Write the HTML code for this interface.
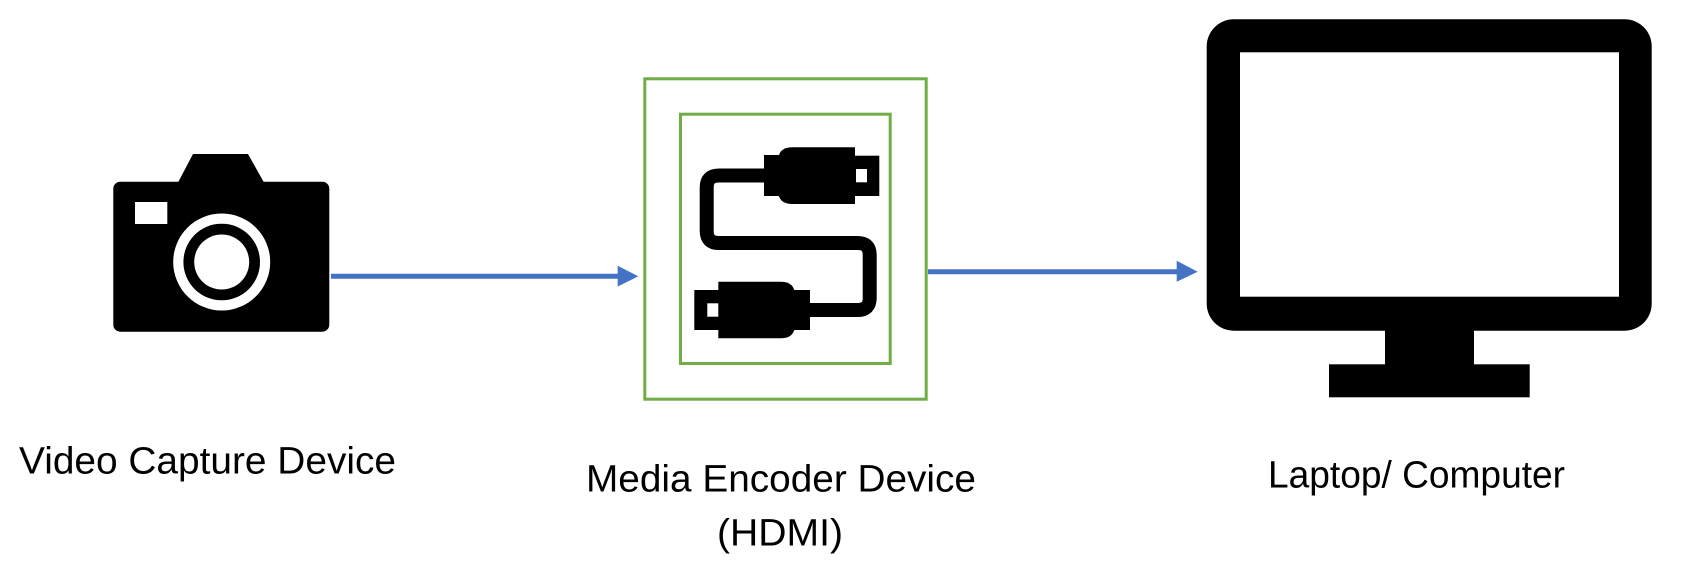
<!DOCTYPE html>
<html>
<head>
<meta charset="utf-8">
<style>
  html, body { margin: 0; padding: 0; background: #ffffff; }
  body { width: 1698px; height: 576px; overflow: hidden; }
  svg { display: block; }
  text { font-family: "Liberation Sans", Arial, sans-serif; font-size: 38px; fill: #000; }
</style>
</head>
<body>
<svg width="1698" height="576" viewBox="0 0 1698 576" xmlns="http://www.w3.org/2000/svg">
  <rect x="0" y="0" width="1698" height="576" fill="#ffffff"/>

  <!-- Camera -->
  <polygon points="178,182.5 193,154 248,154 264,182.5" fill="#000"/>
  <rect x="113.3" y="181.7" width="216" height="150" rx="7" ry="7" fill="#000"/>
  <rect x="135" y="202" width="32.3" height="22" fill="#fff"/>
  <circle cx="221.7" cy="262" r="48.5" fill="#fff"/>
  <circle cx="221.7" cy="262" r="38.3" fill="#000"/>
  <circle cx="221.7" cy="262" r="27.5" fill="#fff"/>

  <!-- Arrow 1 -->
  <line x1="331" y1="276.3" x2="619" y2="276.3" stroke="#4472C4" stroke-width="5"/>
  <polygon points="617.7,265.7 638.3,276.3 617.7,286.5" fill="#4472C4"/>

  <!-- Green boxes -->
  <rect x="644.8" y="78.8" width="281.4" height="320.4" fill="none" stroke="#70AD47" stroke-width="3"/>
  <rect x="680.5" y="114.2" width="209.7" height="249.3" fill="none" stroke="#70AD47" stroke-width="3"/>

  <!-- Cable icon -->
  <path d="M 768 175.5 L 718.7 175.5 Q 706.7 175.5 706.7 187.5 L 706.7 231 Q 706.7 243 718.7 243 L 857.7 243 Q 869.7 243 869.7 255 L 869.7 298 Q 869.7 310 857.7 310 L 806 310"
        fill="none" stroke="#000" stroke-width="14"/>
  <!-- top connector -->
  <rect x="764" y="155" width="17" height="41" fill="#000"/>
  <path d="M 792 147.3 L 855 147.3 L 855 204 L 792 204 Q 778 204 778 190 L 778 161.3 Q 778 147.3 792 147.3 Z" fill="#000"/>
  <rect x="854" y="155.7" width="25.3" height="40.3" fill="#000"/>
  <rect x="856" y="169" width="11" height="13.3" fill="#fff"/>
  <!-- bottom connector -->
  <rect x="793" y="290" width="17" height="40" fill="#000"/>
  <path d="M 718.3 281.7 L 781 281.7 Q 795 281.7 795 295.7 L 795 324.3 Q 795 338.3 781 338.3 L 718.3 338.3 Z" fill="#000"/>
  <rect x="694.3" y="290" width="25" height="40" fill="#000"/>
  <rect x="707.3" y="303.3" width="11" height="13.4" fill="#fff"/>

  <!-- Arrow 2 -->
  <line x1="928" y1="271.7" x2="1178" y2="271.7" stroke="#4472C4" stroke-width="5"/>
  <polygon points="1176.7,260.7 1197.7,271.7 1176.7,281.7" fill="#4472C4"/>

  <!-- Monitor -->
  <rect x="1206.7" y="19.3" width="445" height="311.4" rx="27" ry="27" fill="#000"/>
  <rect x="1240" y="52.3" width="379" height="244.4" fill="#fff"/>
  <rect x="1385" y="329" width="89" height="36.3" fill="#000"/>
  <rect x="1329" y="364.3" width="200.7" height="33" fill="#000"/>

  <!-- Labels -->
  <text x="207.5" y="473.3" text-anchor="middle" textLength="377" lengthAdjust="spacingAndGlyphs">Video Capture Device</text>
  <text x="781" y="491.7" text-anchor="middle" textLength="390" lengthAdjust="spacingAndGlyphs">Media Encoder Device</text>
  <text x="780" y="545.7" text-anchor="middle" textLength="126" lengthAdjust="spacingAndGlyphs">(HDMI)</text>
  <text x="1416.5" y="487.7" text-anchor="middle" textLength="297" lengthAdjust="spacingAndGlyphs">Laptop/ Computer</text>
</svg>
</body>
</html>
